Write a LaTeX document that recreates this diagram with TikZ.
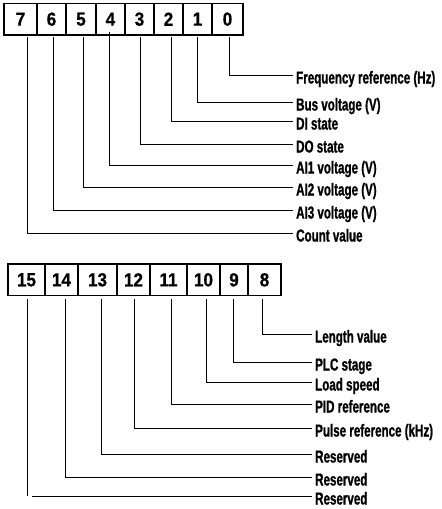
\documentclass[tikz,border=0pt]{standalone}
\usepackage{fontspec}
\newfontfamily\digitfont[FakeStretch=0.9,FakeBold=0.6]{Liberation Sans}
\newfontfamily\labelfont[FakeStretch=0.67,FakeBold=1]{Liberation Sans}
\begin{document}
\begin{tikzpicture}[x=1pt,y=-1pt,
    cell/.style={draw,line width=1.1pt,inner sep=0pt,outer sep=0pt,anchor=north west,
      minimum height=31.7pt,font=\digitfont\bfseries\fontsize{19}{20}\selectfont},
    lbl/.style={anchor=west,inner xsep=3pt,inner ysep=0pt,text height=17pt,text depth=0pt,
      font=\labelfont\bfseries\fontsize{17.3}{18}\selectfont},
    wire/.style={line width=0.9pt}]
    \useasboundingbox (0,0) rectangle (442,509);
    % low byte
    \foreach \b/\l/\r in {7/4/37,6/37/66,5/66/96,4/96/125,3/125/154,2/154/183,1/183/212,0/212/243}
        \node[cell,minimum width=\r-\l] (b\b) at (\l,3.3) {\b};
    % high byte
    \foreach \b/\l/\r in {15/8/45,14/45/78,13/78/117,12/117/150,11/150/187,10/187/220,9/220/248,8/248/281}
        \node[cell,minimum width=\r-\l] (b\b) at (\l,264) {\b};
    % labels and wires, low byte
    \foreach \b/\x/\s/\y/\t in {0/229/37/75/{Frequency reference (Hz)},1/197/37/102/{Bus voltage (V)},
        2/171/37/121/{DI state},3/140/37/144/{DO state},4/109/32/165/{AI1 voltage (V)},
        5/83/37/187/{AI2 voltage (V)},6/53/37/210/{AI3 voltage (V)},7/27/37/233/{Count value}} {
        \coordinate (t\b) at (\x,\s);
        \node[lbl] (l\b) at (293,\y) {\t};
        \draw[wire] (t\b) |- (l\b.west);
    }
    % labels and wires, high byte
    \foreach \b/\x/\y/\t in {8/262/334/{Length value},9/233/362/{PLC stage},10/206/382/{Load speed},
        11/171/404/{PID reference},12/134/428/{Pulse reference (kHz)},13/101/454/{Reserved},
        14/65/477/{Reserved}} {
        \coordinate (t\b) at (\x,299);
        \node[lbl] (l\b) at (312,\y) {\t};
        \draw[wire] (t\b) |- (l\b.west);
    }
    \coordinate (t15) at (27,299);
    \node[lbl] (l15) at (312,496) {Reserved};
    \coordinate (c15a) at (27,496);
    \coordinate (c15b) at (32,496);
    \draw[wire] (t15) -- (c15a);
    \draw[wire] (c15b) -- (l15.west);
\end{tikzpicture}
\end{document}
